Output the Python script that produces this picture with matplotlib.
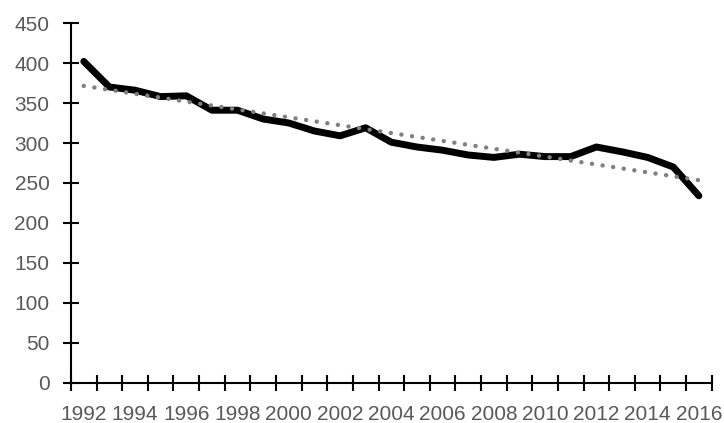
import numpy as np
import matplotlib
matplotlib.use("Agg")
import matplotlib.pyplot as plt
from matplotlib.ticker import FixedLocator

# Datos
years = list(range(1992, 2017))
values = [402, 370, 366, 358, 359, 341, 341, 330, 325, 315, 309, 319,
          301, 295, 291, 285, 282, 286, 283, 283, 295, 289, 282, 270, 234]
y_ticks = [0, 50, 100, 150, 200, 250, 300, 350, 400, 450]
x_labels = list(range(1992, 2017, 2))

plt.rcParams['font.family'] = ['Liberation Sans', 'DejaVu Sans']

fig = plt.figure(figsize=(7.24, 4.23), dpi=100)
ax = fig.add_axes([0.098, 0.0946, 0.885, 0.851])

# Serie principal
ax.plot(years, values, color='black', linewidth=5, solid_capstyle='round',
        solid_joinstyle='round', zorder=3)

# Línea de tendencia lineal
coef = np.polyfit(years, values, 1)
trend = np.polyval(coef, years)
ax.plot(years, trend, color='#808080', linewidth=3.2,
        linestyle=(0, (0.01, 2.4)), dash_capstyle='round', zorder=4)

ax.set_xlim(1991.5, 2016.5)
ax.set_ylim(0, 450)

ax.set_yticks(y_ticks)
ax.xaxis.set_major_locator(FixedLocator(x_labels))
ax.xaxis.set_minor_locator(FixedLocator(np.arange(1991.5, 2017, 1)))

for s in ['top', 'right']:
    ax.spines[s].set_visible(False)
for s in ['left', 'bottom']:
    ax.spines[s].set_linewidth(1.5)

ax.tick_params(axis='x', which='major', length=0, pad=16,
               labelsize=15, labelcolor='#595959')
ax.tick_params(axis='x', which='minor', direction='inout', length=11, width=1.5)
ax.tick_params(axis='y', which='major', direction='inout', length=11, width=1.5,
               pad=10, labelsize=15, labelcolor='#595959')

plt.savefig("out.png", dpi=100)
